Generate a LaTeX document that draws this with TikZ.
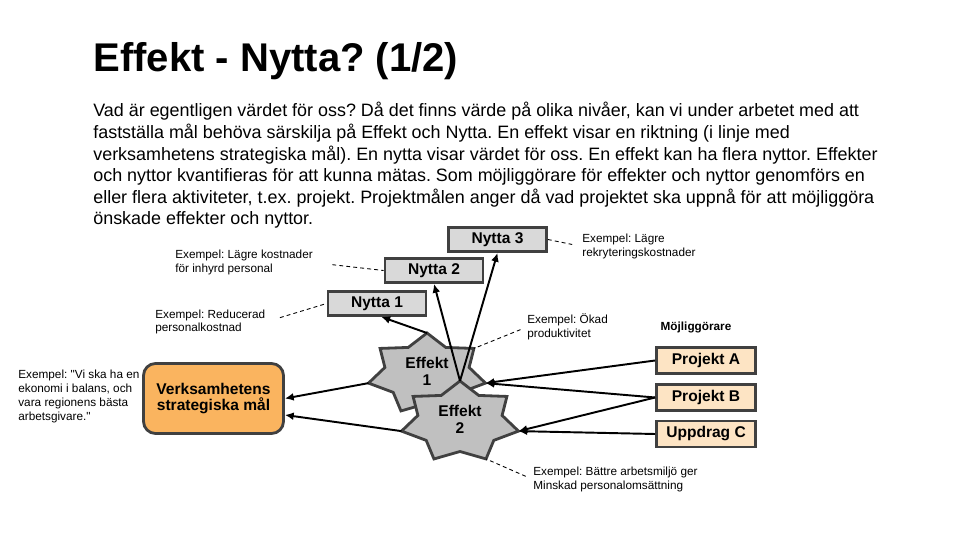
\documentclass[tikz,border=0pt]{standalone}
\usepackage{fontspec}
\setmainfont[Ligatures=TeXOff]{Liberation Sans}
\usetikzlibrary{arrows.meta,positioning}
\definecolor{edgegray}{HTML}{404040}
\definecolor{nyttagray}{HTML}{D9D9D9}
\definecolor{stargray}{HTML}{C0C0C0}
\definecolor{goalorange}{HTML}{FAB45F}
\definecolor{enablerpeach}{HTML}{FDE4C4}
\newcommand{\titlefnt}{\fontsize{22.8}{26}\selectfont\bfseries}
\newcommand{\parafnt}{\fontsize{10.2}{12.3}\selectfont}
\newcommand{\boxfnt}{\fontsize{8.85}{9.6}\selectfont\bfseries}
\newcommand{\exfnt}{\fontsize{6.7}{7.9}\selectfont}
\frenchspacing

\begin{document}
\begin{tikzpicture}[
  x=0.02cm, y=-0.02cm,
  nytta/.style={rectangle, draw=edgegray, line width=1.6pt, fill=nyttagray,
                minimum width=1.96cm, minimum height=0.48cm, inner sep=0pt, font=\boxfnt},
  goal/.style={rectangle, draw=edgegray, line width=1.6pt, fill=goalorange,
               rounded corners=0.24cm, minimum width=2.8cm, minimum height=1.4cm,
               inner sep=0pt, align=center, font=\boxfnt},
  proj/.style={rectangle, draw=edgegray, line width=1.6pt, fill=enablerpeach,
               minimum width=1.98cm, minimum height=0.52cm, inner sep=0pt, font=\boxfnt},
  starbox/.style={draw=edgegray, line width=1.6pt, fill=stargray},
  efftext/.style={inner sep=0pt, align=center, font=\boxfnt},
  exm/.style={inner sep=0pt, align=left, font=\exfnt},
  arr/.style={-{Latex[length=5pt,width=4.5pt]}, line width=1.1pt},
  hint/.style={dash pattern=on 2.2pt off 1.8pt, line width=0.5pt}
]
\useasboundingbox (0,0) rectangle (960,540);

% heading and text
\node[anchor=base west, inner sep=0pt, font=\titlefnt] (title) at (93,72) {Effekt - Nytta? (1/2)};
\node[anchor=north west, inner sep=0pt, align=left, font=\parafnt] (intro) at (93,102)
  {Vad är egentligen värdet för oss? Då det finns värde på olika nivåer, kan vi under arbetet med att\\
   fastställa mål behöva särskilja på Effekt och Nytta. En effekt visar en riktning (i linje med\\
   verksamhetens strategiska mål). En nytta visar värdet för oss. En effekt kan ha flera nyttor. Effekter\\
   och nyttor kvantifieras för att kunna mätas. Som möjliggörare för effekter och nyttor genomförs en\\
   eller flera aktiviteter, t.ex. projekt. Projektmålen anger då vad projektet ska uppnå för att möjliggöra\\
   önskade effekter och nyttor.};

% examples
\node[exm, anchor=west] (exv) at (18,396.5) {Exempel: "Vi ska ha en\\ekonomi i balans, och\\vara regionens bästa\\arbetsgivare."};
\node[exm, anchor=west] (exk) at (175,262.5) {Exempel: Lägre kostnader\\för inhyrd personal};
\node[exm, anchor=west] (exr) at (155,322) {Exempel: Reducerad\\personalkostnad};
\node[exm, anchor=west] (exl) at (582,246.5) {Exempel: Lägre\\rekryteringskostnader};
\node[exm, anchor=west] (exo) at (527,327) {Exempel: Ökad\\produktivitet};
\node[exm, anchor=west] (exb) at (533,479.5) {Exempel: Bättre arbetsmiljö ger\\Minskad personalomsättning};

% nyttor
\node[nytta] (n3) at (497.5,239.5) {Nytta 3};
\node[nytta] (n2) at (434,270.5) {Nytta 2};
\node[nytta] (n1) at (377,303.5) {Nytta 1};

% goal
\node[goal] (vm) at (213.5,398.5) {Verksamhetens\\strategiska mål};

% enablers
\node[font=\exfnt\bfseries, inner sep=0pt] (enab) at (696,327) {Möjliggörare};
\node[proj] (pa) at (706,360.5) {Projekt A};
\node[proj] (pb) at (706,397.5) {Projekt B};
\node[proj] (uc) at (706,434) {Uppdrag C};

% effects (seven-pointed stars)
\foreach \nm/\cx/\cy/\lab in {e1/427/374/1, e2/460/422/2} {
  \begin{scope}[shift={(\cx,\cy)}]
    \draw[starbox] (-90:60 and 41)
      \foreach \k in {0,...,6} { -- ({-90+\k*360/7+180/7}:43.2 and 29.5) -- ({-90+(\k+1)*360/7}:60 and 41) } -- cycle;
    \foreach \k in {0,...,6} \coordinate (\nm-\k) at ({-90+\k*360/7}:60 and 41);
    \node[efftext] (\nm) at (0,-3) {Effekt\\\lab};
  \end{scope}
}

% arrows
\draw[arr] (e1-0) -- (n1.-72);
\draw[arr] (e2-0) -- (n2.south);
\draw[arr] (e2-0) -- (n3.south);
\draw[arr] (e1-5) -- (vm.0);
\draw[arr] (e2-5) -- (vm.-13);
\draw[arr] (pa.west) -- (e1-2);
\draw[arr] (pb.west) -- (e1-2);
\draw[arr] (pb.west) -- (e2-2);
\draw[arr] (uc.west) -- (e2-2);

% dashed hints
\draw[hint, shorten <=11pt] (exk.east) -- (n2.west);
\draw[hint, shorten <=8.5pt] (exr.east) -- (n1.west);
\draw[hint, shorten >=5.7pt] (n3.east) -- (exl.west);
\draw[hint, shorten <=4pt] (exo.west) -- (e1-1);
\draw[hint, shorten <=4.5pt] (exb.west) -- (e2-3);
\end{tikzpicture}
\end{document}
